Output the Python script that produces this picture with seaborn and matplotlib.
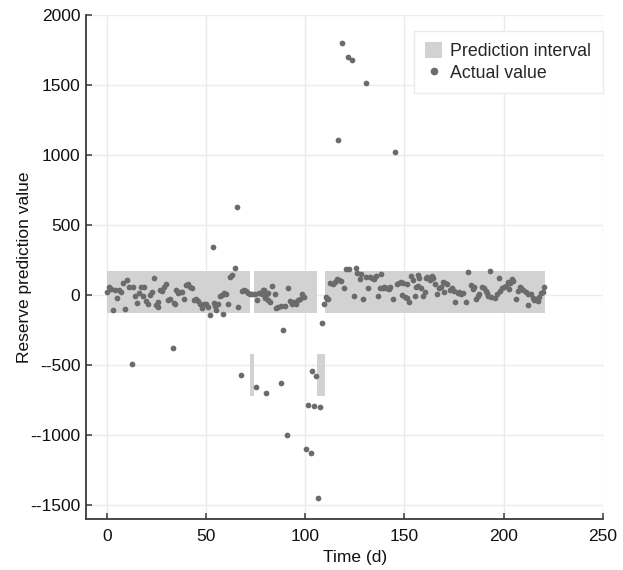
import matplotlib
matplotlib.use("Agg")
import matplotlib.pyplot as plt
import seaborn as sns
import pandas as pd
from matplotlib.patches import Patch
from matplotlib.lines import Line2D
from matplotlib.ticker import FixedLocator, FixedFormatter

# ---- data ----
# prediction interval segments (start day, end day, lower, upper)
interval_start = [0, 72, 74, 106, 110]
interval_end = [72, 74, 106, 110, 221]
interval_lower = [-130, -720, -130, -720, -130]
interval_upper = [172, -420, 172, -420, 172]

time_d = [
    0, 1, 2, 3, 4, 5, 6, 7, 8, 9, 10, 11, 12.6, 13, 14, 15, 16, 17, 18, 19, 20, 21, 22, 23, 23.6,
    25, 25.8, 26, 27, 28, 29, 30, 31, 32, 33.3, 34, 34.6, 35, 36, 37, 38, 39, 40, 41, 42, 43, 44,
    45, 46, 47, 48, 49, 50, 51, 52, 53.5, 54, 54.5, 55, 56, 57, 58, 58.5, 59, 60, 61, 62.3, 63.3,
    64.6, 65.5, 66, 67.5, 68, 69, 70, 71, 72,
    73, 74.6, 75.4, 75.8, 76.8, 78, 78.5, 79.4, 79.6, 80.5, 80.5, 81.3, 81.5, 82.5, 83.5, 84.7,
    85.5, 86.4, 87.6, 88, 88.6, 89.7, 90.6, 91.4, 92.3, 93.4, 94.4, 95.6, 96.5, 97.6, 98.5, 99.3,
    100.4, 101.5, 102.7, 103.5, 104.4, 105.6, 106.6, 107.4, 108.4, 109.4, 110.8,
    110.5, 111.7, 112.5, 113.9, 115, 116, 116.5, 117.2, 118.4, 117.9, 119.5, 120.4, 121.4, 122.2,
    123.4, 124.6, 125.5, 126.3, 127.6, 128.1, 129.3, 130.5, 130.8, 131.8, 132.7, 133.6, 134.7,
    135.5, 136.6, 137.5, 138.4, 139, 139.8, 140.7, 141.5, 142.2, 142.8, 144.5, 145.5, 146.5, 147.5,
    148.3, 148.7, 149.5, 150.4, 151.2, 151.5, 152.5, 153.5, 154.6, 155.5, 156, 156.8, 157, 157.6,
    158.2, 159.3, 160.5, 161, 161.6, 163, 163.9, 164.7, 165.5, 166.3, 167.7, 168.4, 169.4, 170,
    170.6, 171.7, 173, 174, 175, 175.6, 177, 177.8, 178.6, 179.4, 181, 182.3, 183.5, 184.5, 185,
    186.2, 186.9, 187.6, 189, 190, 191, 191.6, 192.3, 193.3, 193.8, 195.5, 196.6, 197.5, 198.3,
    199, 200.2, 201.2, 202.2, 202.7, 203.2, 204.1, 204.8, 206.4, 207.2, 208.2, 209, 210, 211.2,
    212.2, 212.5, 213.8, 214.7, 215.5, 216.3, 217.2, 218, 219, 219.8, 220.3,
]
actual = [
    25, 60, 45, -105, 36, -17, 40, 19, 90, -102, 107, 55, -490, 60, -7, -55, 12, 55, -7, 55, -40, -60, 0, 24, 124,
    -71, -48, -88, 36, 31, 60, 83, -36, -24, -374, -55, -64, 36, 12, 24, 24, -24, 71, 79, 60, 48, -36,
    -24, -40, -60, -95, -60, -64, -83, -143, 345, -55, -79, -107, -64, -7, 0, -136, 17, 7, -60, 126, 141,
    195, 629, -88, -571, 31, 40, 31, 12, 7,
    5, 7, -655, -36, 12, 7, 36, 36, -17, -698, 0, 12, -36, -48, 67, 7,
    -95, -83, -629, -79, -248, -79, -1000, 48, -40, -60, -48, -64, -36, -24, 5, -12,
    -1095, -783, -1126, -540, -790, -574, -1448, -800, -202, -60, -24,
    -12, -29, 90, 83, 95, 114, 1105, 107, 1798, 100, 48, 190, 1698, 190,
    1679, -5, 195, 155, 114, 150, -24, 1517, 130, 52, 131, 124, 114,
    135, -5, 48, 150, 48, 60, 48, 52, 43, 60, -24, 1024, 83, 90,
    95, 0, 88, -12, 83, -19, -48, 140, 107, -5, 60, 145, 67, 119,
    52, -5, 24, 124, 131, 107, 138, 124, 83, 5, 48, 60, 95, 19,
    88, 83, 36, 48, 29, -48, 12, 19, 5, 12, -48, 167, 76, 43, 60,
    -24, -5, 5, 60, 48, 29, 12, -5, 174, -12, -19, 5, 124, 29,
    48, 60, 67, 95, 43, 90, 114, 100, -24, 29, 55, 48, 36, 19,
    5, -71, 5, -19, -36, -24, -43, -12, 12, 24, 60,
]

y_ticks = [-1500, -1000, -500, 0, 500, 1000, 1500, 2000]
y_tick_labels = ["--1500", "--1000", "--500", "0", "500", "1000", "1500", "2000"]
x_ticks = [0, 50, 100, 150, 200, 250]
x_tick_labels = ["0", "50", "100", "150", "200", "250"]

# ---- style ----
sns.set_theme(style="whitegrid")
plt.rcParams["font.family"] = ["Liberation Sans", "DejaVu Sans"]
FS = 12.5
band_color = "#d2d2d2"
point_color = "#6b6b6b"
spine_color = "#3a3a3a"

fig = plt.figure(figsize=(6.23, 5.7), dpi=100)
ax = fig.add_axes([0.138, 0.089, 0.8294, 0.8847])

widths = [e - s for s, e in zip(interval_start, interval_end)]
heights = [u - l for l, u in zip(interval_lower, interval_upper)]
ax.bar(interval_start, heights, width=widths, bottom=interval_lower, align="edge",
       color=band_color, linewidth=0, zorder=2)

df = pd.DataFrame({"Time (d)": time_d, "value": actual})
sns.scatterplot(data=df, x="Time (d)", y="value", ax=ax, color=point_color, s=17,
                linewidth=0, zorder=3, legend=False)

ax.set_xlim(-10.5, 250)
ax.set_ylim(-1600, 2000)
ax.yaxis.set_major_locator(FixedLocator(y_ticks))
ax.yaxis.set_major_formatter(FixedFormatter(y_tick_labels))
ax.xaxis.set_major_locator(FixedLocator(x_ticks))
ax.xaxis.set_major_formatter(FixedFormatter(x_tick_labels))

ax.grid(True, color="#ebebeb", linewidth=1.0)
ax.set_axisbelow(True)
for side in ["top", "right"]:
    ax.spines[side].set_visible(False)
for side in ["left", "bottom"]:
    ax.spines[side].set_visible(True)
    ax.spines[side].set_color(spine_color)
    ax.spines[side].set_linewidth(1.3)

ax.tick_params(axis="both", which="major", direction="in", length=4.5, width=1.1,
               color=spine_color, labelsize=FS, labelcolor="#111111",
               left=True, bottom=True)
ax.tick_params(axis="y", pad=4)
ax.tick_params(axis="x", pad=7)

ax.set_xlabel("Time (d)", fontsize=FS, color="#111111")
ax.set_ylabel("Reserve prediction value", fontsize=FS, color="#111111")
ax.xaxis.set_label_coords(0.52, -0.06)
ax.yaxis.set_label_coords(-0.104, 0.5)

handles = [
    Patch(facecolor=band_color, edgecolor="none", label="Prediction interval"),
    Line2D([0], [0], marker="o", linestyle="none", markersize=5.5,
           markerfacecolor=point_color, markeredgewidth=0, label="Actual value"),
]
leg = ax.legend(handles=handles, loc="upper right", bbox_to_anchor=(1.0, 0.969),
                fontsize=FS + 0.3, frameon=True, fancybox=False, framealpha=1,
                edgecolor="#ebebeb", borderpad=0.65, handlelength=0.95,
                handleheight=0.95, handletextpad=0.45, labelspacing=0.22,
                borderaxespad=0)
leg.get_frame().set_linewidth(1.0)

fig.savefig("out.png", dpi=100)
